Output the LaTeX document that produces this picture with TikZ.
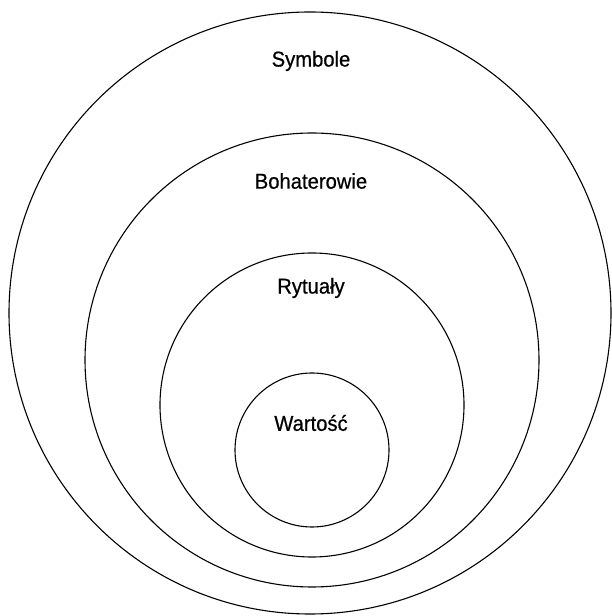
\documentclass[tikz,border=0pt]{standalone}
\usepackage{fontspec}
\setmainfont[FakeStretch=0.94, FakeBold=0.6]{Liberation Sans}
\usepackage{tikz}
\usetikzlibrary{positioning}

\begin{document}
\begin{tikzpicture}[
    x=1pt, y=1pt,
    ring/.style={circle, draw, line width=1.1pt, inner sep=0pt},
    label/.style={font=\fontsize{21.5}{24}\selectfont, inner sep=0pt}
]
\useasboundingbox (0,0) rectangle (612,616);

% Rings
\node[ring, minimum size=602pt] (symbole) at (310,303) {};
\node[ring, minimum size=454pt] (bohaterowie) at (312,256) {};
\node[ring, minimum size=304pt] (rytualy) at (312,211) {};
\node[ring, minimum size=154pt] (wartosc) at (312,166) {};

% Labels
\node[label] (lsymbole) at (311,555) {Symbole};
\node[label] (lbohaterowie) at (311,435) {Bohaterowie};
\node[label] (lrytualy) at (311,328) {Rytuały};
\node[label] (lwartosc) at (311,193) {Wartość};

\end{tikzpicture}
\end{document}
